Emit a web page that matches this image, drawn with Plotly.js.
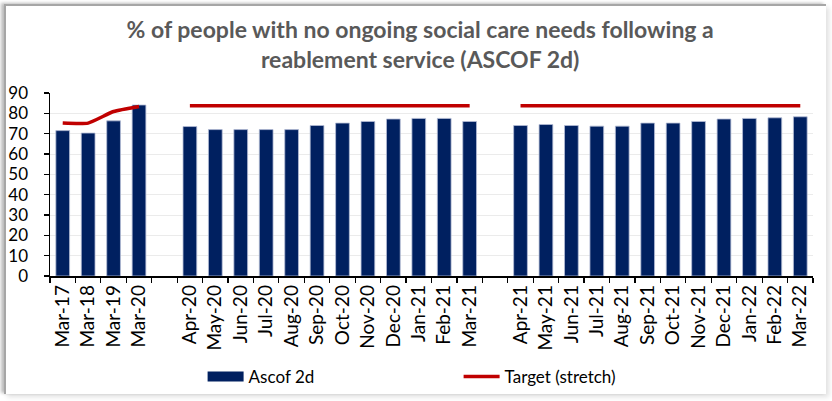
<!DOCTYPE html>
<html>
<head>
<meta charset="utf-8">
<script src="https://cdn.plot.ly/plotly-3.0.1.min.js"></script>
<style>
  html, body { margin: 0; padding: 0; background: #ffffff; }
  #wrap { position: relative; width: 832px; height: 401px; overflow: hidden; background: #fff; }
  #frame { position: absolute; left: 4px; top: 4px; width: 820px; height: 388px;
           border-top: 2px solid #a6a6a6; border-left: 2px solid #a6a6a6;
           box-shadow: -3px -1px 3px rgba(0,0,0,0.25), 3px 3px 5px rgba(0,0,0,0.12);
           background: #fff; }
  #chart { position: absolute; left: 0; top: 0; width: 832px; height: 401px; }
</style>
</head>
<body>
<div id="wrap">
  <div id="frame"></div>
  <div id="chart"></div>
</div>
<script>
// Category labels (blank entries are the gaps between periods)
const categories = [
  "Mar-17", "Mar-18", "Mar-19", "Mar-20", " ",
  "Apr-20", "May-20", "Jun-20", "Jul-20", "Aug-20", "Sep-20",
  "Oct-20", "Nov-20", "Dec-20", "Jan-21", "Feb-21", "Mar-21", "  ",
  "Apr-21", "May-21", "Jun-21", "Jul-21", "Aug-21", "Sep-21",
  "Oct-21", "Nov-21", "Dec-21", "Jan-22", "Feb-22", "Mar-22"
];

// Ascof 2d values (%)
const ascof2d = [
  71.5, 70.3, 76.3, 84.1, null,
  73.5, 72.0, 72.0, 72.0, 72.0, 74.0,
  75.2, 76.0, 77.2, 77.5, 77.5, 76.0, null,
  74.0, 74.5, 74.0, 73.7, 73.7, 75.2,
  75.2, 76.0, 77.2, 77.5, 77.8, 78.3
];

// Target (stretch) values (%)
const target = [
  75.2, 75.2, 80.9, 83.4, null,
  83.7, 83.7, 83.7, 83.7, 83.7, 83.7,
  83.7, 83.7, 83.7, 83.7, 83.7, 83.7, null,
  83.7, 83.7, 83.7, 83.7, 83.7, 83.7,
  83.7, 83.7, 83.7, 83.7, 83.7, 83.7
];

const yTicks = [0, 10, 20, 30, 40, 50, 60, 70, 80, 90];

const font = "Lato, 'Open Sans', sans-serif";
const barColor = "#002060";

const traces = [
  {
    type: "bar",
    name: "Ascof 2d",
    legendgroup: "ascof",
    showlegend: false,
    x: categories,
    y: ascof2d,
    marker: { color: barColor, line: { color: "#b4bdd6", width: 0.8 } },
    hoverinfo: "x+y"
  },
  {
    // legend entry for the bars, drawn as a wide block like the original
    type: "scatter",
    mode: "lines",
    name: "Ascof 2d",
    legendgroup: "ascof",
    x: [null],
    y: [null],
    line: { color: barColor, width: 10 },
    hoverinfo: "skip"
  },
  {
    type: "scatter",
    mode: "lines",
    name: "Target (stretch)",
    x: categories,
    y: target,
    connectgaps: false,
    line: { color: "#c00000", width: 3.5, shape: "spline", smoothing: 0.5 },
    hoverinfo: "x+y"
  }
];

const layout = {
  width: 832,
  height: 401,
  paper_bgcolor: "rgba(0,0,0,0)",
  plot_bgcolor: "rgba(0,0,0,0)",
  margin: { l: 50, r: 19, t: 93, b: 125 },
  font: { family: font, color: "#000000", size: 15 },
  title: {
    text: "% of people with no ongoing social care needs following a<br>reablement service (ASCOF 2d)",
    font: { family: font, size: 23, color: "#595959", weight: "bold" },
    x: 0.505,
    xanchor: "center",
    xref: "container",
    yref: "container",
    y: 0.905,
    yanchor: "top",
    automargin: false
  },
  bargap: 0.46,
  showlegend: true,
  legend: {
    orientation: "h",
    x: 0.2,
    xanchor: "left",
    yref: "container",
    y: 0.06,
    yanchor: "middle",
    font: { family: font, size: 17, color: "#000" },
    entrywidth: 205,
    entrywidthmode: "pixels",
    itemwidth: 36,
    traceorder: "normal"
  },
  xaxis: {
    type: "category",
    categoryorder: "array",
    categoryarray: categories,
    tickangle: -90,
    tickfont: { family: font, size: 19, color: "#000" },
    showline: true,
    linecolor: "#000",
    linewidth: 1.5,
    ticks: "outside",
    tickson: "boundaries",
    ticklen: 5,
    tickwidth: 1.2,
    tickcolor: "#000",
    showgrid: false,
    zeroline: false,
    automargin: false,
    fixedrange: true
  },
  yaxis: {
    range: [0, 90],
    tickvals: yTicks,
    ticktext: yTicks.map(String),
    tickfont: { family: font, size: 17, color: "#000" },
    ticklabelstandoff: 12,
    showline: true,
    linecolor: "#000",
    linewidth: 1.5,
    ticks: "outside",
    ticklen: 5,
    tickwidth: 1.2,
    tickcolor: "#000",
    showgrid: true,
    gridcolor: "#ebebeb",
    gridwidth: 1,
    zeroline: false,
    automargin: false,
    fixedrange: true
  }
};

Plotly.newPlot("chart", traces, layout, { displayModeBar: false, staticPlot: true });
</script>
</body>
</html>
